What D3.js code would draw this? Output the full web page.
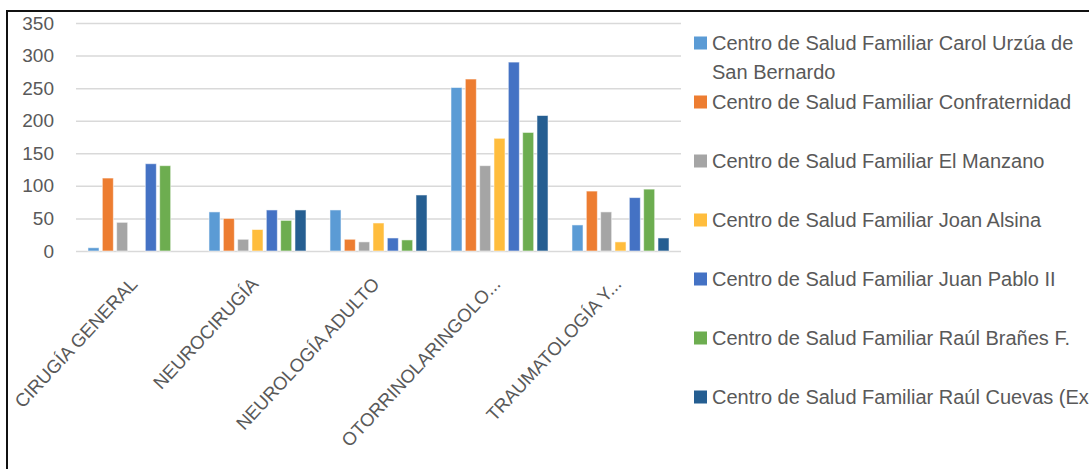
<!DOCTYPE html>
<html>
<head>
<meta charset="utf-8">
<script src="https://cdn.jsdelivr.net/npm/d3@7"></script>
<style>
  html, body { margin: 0; padding: 0; background: #fff; }
  svg { display: block; font-family: "Liberation Sans", Arial, sans-serif; }
</style>
</head>
<body>
<svg id="chart" width="1089" height="469"></svg>
<script>
// Specialty categories (x axis)
const categories = [
  "CIRUGÍA GENERAL",
  "NEUROCIRUGÍA",
  "NEUROLOGÍA ADULTO",
  "OTORRINOLARINGOLO...",
  "TRAUMATOLOGÍA Y..."
];

// Health centres (series), legend lines
const seriesNames = [
  ["Centro de Salud Familiar Carol Urzúa de", "San Bernardo"],
  ["Centro de Salud Familiar Confraternidad"],
  ["Centro de Salud Familiar El Manzano"],
  ["Centro de Salud Familiar Joan Alsina"],
  ["Centro de Salud Familiar Juan Pablo II"],
  ["Centro de Salud Familiar Raúl Brañes F."],
  ["Centro de Salud Familiar Raúl Cuevas (Ex"]
];

const seriesColors = ["#5B9BD5", "#ED7D31", "#A5A5A5", "#FFBD3D", "#4472C4", "#6DAD50", "#255E91"];

// Values per series, one per category
const carolUrzua     = [5, 60, 63, 251, 40];
const confraternidad = [112, 50, 18, 264, 92];
const elManzano      = [44, 18, 14, 131, 60];
const joanAlsina     = [0, 33, 43, 173, 14];
const juanPabloII    = [134, 63, 20, 290, 82];
const raulBranes     = [131, 47, 17, 182, 95];
const raulCuevas     = [0, 63, 86, 208, 20];

const seriesValues = [carolUrzua, confraternidad, elManzano, joanAlsina, juanPabloII, raulBranes, raulCuevas];

const yTicks = [0, 50, 100, 150, 200, 250, 300, 350];

const svg = d3.select("#chart");
const textColor = "#595959";

// Outer frame
svg.append("rect")
  .attr("x", 7).attr("y", 11)
  .attr("width", 1200).attr("height", 600)
  .attr("fill", "none")
  .attr("stroke", "#111")
  .attr("stroke-width", 2);

const plot = { left: 76, right: 681, top: 23, bottom: 251 };

const x0 = d3.scaleBand()
  .domain(categories)
  .range([plot.left, plot.right])
  .paddingInner(0.198)
  .paddingOuter(0.099);

const x1 = d3.scaleBand()
  .domain(d3.range(seriesValues.length))
  .range([0, x0.bandwidth()])
  .paddingInner(0.23)
  .paddingOuter(0);

const y = d3.scaleLinear()
  .domain([0, 350])
  .range([plot.bottom, plot.top]);

// Gridlines and y labels
const yAxis = d3.axisLeft(y)
  .tickValues(yTicks)
  .tickSize(-(plot.right - plot.left))
  .tickPadding(22);

const gy = svg.append("g")
  .attr("transform", `translate(${plot.left},0)`)
  .call(yAxis);
gy.select(".domain").remove();
gy.selectAll(".tick line")
  .attr("stroke", "#D9D9D9")
  .attr("stroke-width", 1.5);
gy.selectAll(".tick text")
  .attr("fill", textColor)
  .attr("font-size", 19)
  .attr("font-family", "Liberation Sans, Arial, sans-serif");

// Bars
const groups = svg.append("g")
  .selectAll("g")
  .data(categories)
  .join("g")
  .attr("transform", d => `translate(${x0(d)},0)`);

groups.selectAll("rect")
  .data((cat, ci) => seriesValues.map((vals, si) => ({ si, v: vals[ci] })))
  .join("rect")
  .filter(d => d.v > 0)
  .attr("x", d => x1(d.si))
  .attr("width", x1.bandwidth())
  .attr("y", d => y(d.v))
  .attr("height", d => y(0) - y(d.v))
  .attr("fill", d => seriesColors[d.si])
  .attr("stroke", "#fff")
  .attr("stroke-opacity", 0.55)
  .attr("stroke-width", 1);

// Category labels, rotated
const gx = svg.append("g");
gx.selectAll("text")
  .data(categories)
  .join("text")
  .attr("transform", d => `translate(${x0(d) + x0.bandwidth() / 2 + 2},285) rotate(-47)`)
  .attr("text-anchor", "end")
  .attr("fill", textColor)
  .attr("font-size", 18.5)
  .text(d => d);

// Legend
const legend = svg.append("g");
const entryStep = 59;
const legendTop = 43;
const entries = legend.selectAll("g")
  .data(seriesNames)
  .join("g")
  .attr("transform", (d, i) => `translate(694,${legendTop + i * entryStep})`);

entries.append("rect")
  .attr("x", 0).attr("y", -6.5)
  .attr("width", 13).attr("height", 13)
  .attr("fill", (d, i) => seriesColors[i]);

entries.each(function (lines) {
  const t = d3.select(this).append("text")
    .attr("x", 18)
    .attr("fill", textColor)
    .attr("font-size", 20);
  lines.forEach((line, li) => {
    t.append("tspan")
      .attr("x", 18)
      .attr("y", li * 29)
      .attr("dy", "0.35em")
      .text(line);
  });
});
</script>
</body>
</html>
